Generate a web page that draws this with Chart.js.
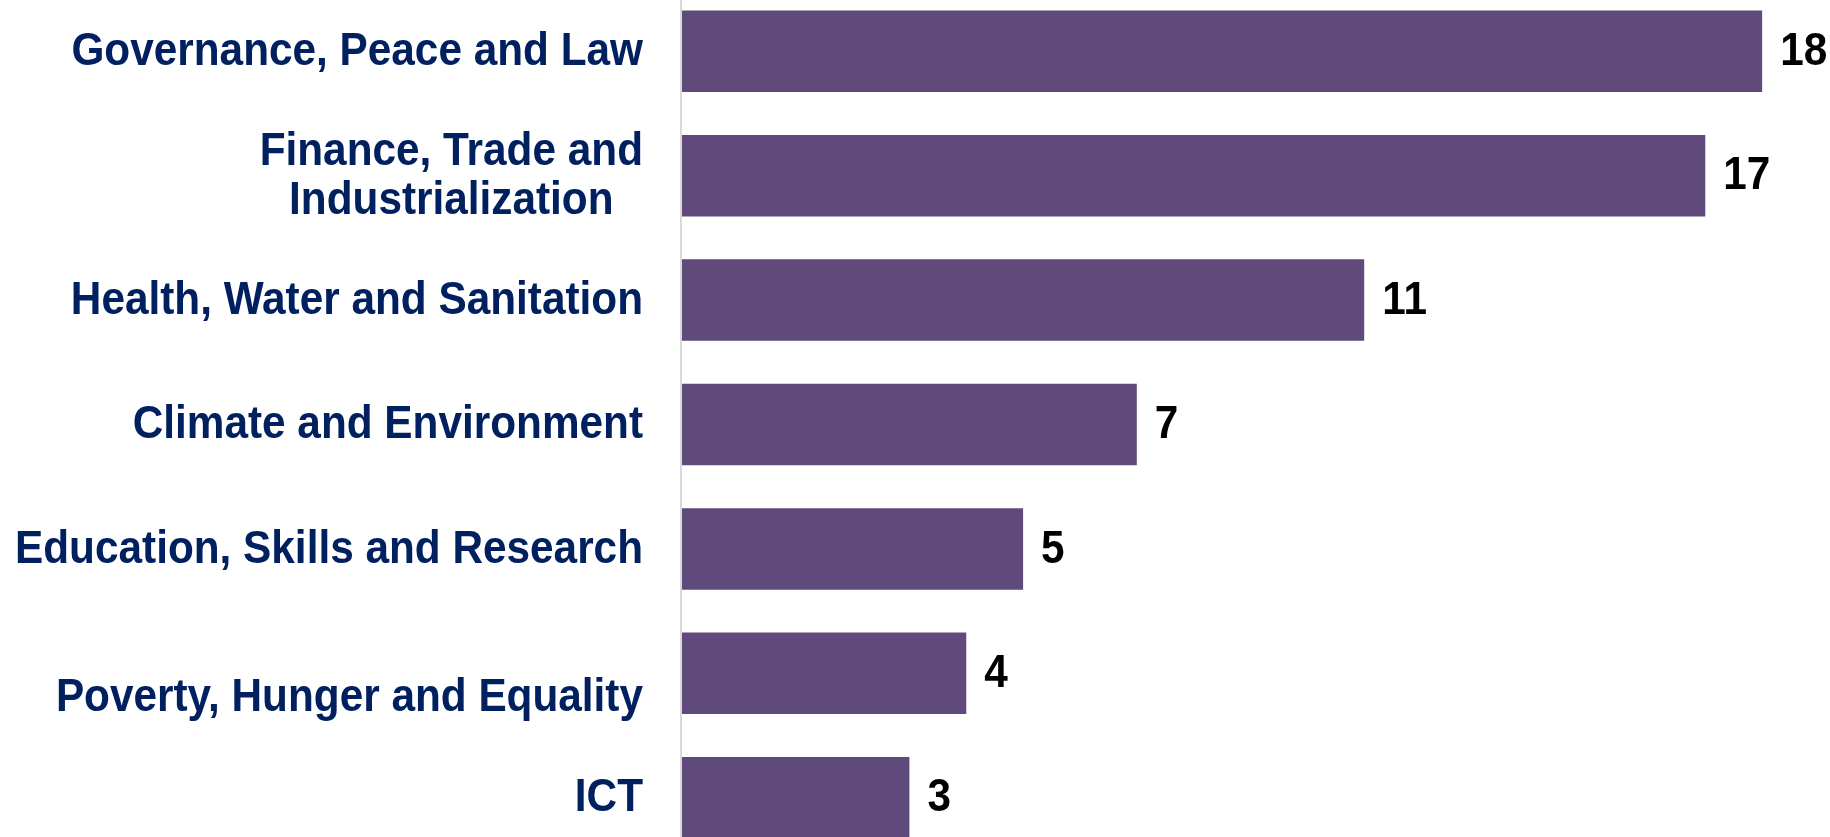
<!DOCTYPE html>
<html>
<head>
<meta charset="utf-8">
<script src="https://cdn.jsdelivr.net/npm/chart.js@4/dist/chart.umd.min.js"></script>
<style>
    html, body { margin: 0; padding: 0; background: #fff; overflow: hidden; }
    body { width: 1830px; height: 837px; position: relative; }
    .chart-box { position: absolute; left: 0; top: -11px; width: 1830px; height: 871px; }
</style>
</head>
<body>
<div class="chart-box"><canvas id="sectorChart"></canvas></div>
<script>
// ===== DATA =====
const categories = [
    'Governance, Peace and Law',
    ['Finance, Trade and', 'Industrialization'],
    'Health, Water and Sanitation',
    'Climate and Environment',
    'Education, Skills and Research',
    'Poverty, Hunger and Equality',
    'ICT'
];
const counts = [18, 17, 11, 7, 5, 4, 3];

const BAR_COLOR = '#604a7b';
const LABEL_COLOR = '#002060';
const FONT = 'bold 46px "Liberation Sans", Arial, sans-serif';
const SQUEEZE = 0.92; // original text is a bit narrow

// draw text squeezed horizontally, anchored at x
function drawText(ctx, text, x, y, align) {
    const w = ctx.measureText(text).width * SQUEEZE;
    let left = x;
    if (align === 'right') left = x - w;
    if (align === 'center') left = x - w / 2;
    ctx.save();
    ctx.translate(left, y);
    ctx.scale(SQUEEZE, 1);
    ctx.textAlign = 'left';
    ctx.fillText(text, 0, 0);
    ctx.restore();
}

const categoryLabels = {
    id: 'categoryLabels',
    beforeDatasetsDraw(chart) {
        const { ctx, chartArea } = chart;
        // light grey axis line
        ctx.save();
        ctx.strokeStyle = '#d9d9d9';
        ctx.lineWidth = 2;
        ctx.beginPath();
        ctx.moveTo(chartArea.left - 1, 0);
        ctx.lineTo(chartArea.left - 1, chart.height);
        ctx.stroke();
        ctx.restore();
    },
    afterDatasetsDraw(chart) {
        const { ctx, chartArea, scales } = chart;
        const right = chartArea.left - 39;
        ctx.save();
        ctx.font = FONT;
        ctx.fillStyle = LABEL_COLOR;
        ctx.textBaseline = 'middle';
        categories.forEach(function(label, i) {
            let y = scales.y.getPixelForValue(i) + 1;
            if (i === 5) y += 24; // this one sits lower in the original
            if (Array.isArray(label)) {
                const widths = label.map(l => ctx.measureText(l).width * SQUEEZE);
                const maxW = Math.max.apply(null, widths);
                const lineH = 49;
                const top = y - (label.length - 1) * lineH / 2;
                label.forEach(function(line, j) {
                    drawText(ctx, line, right - maxW / 2, top + j * lineH, 'center');
                });
            } else {
                drawText(ctx, label, right, y, 'right');
            }
        });

        // value labels at bar ends
        const meta = chart.getDatasetMeta(0);
        ctx.fillStyle = '#000';
        meta.data.forEach(function(bar, i) {
            drawText(ctx, String(counts[i]), bar.x + 18, bar.y + 1, 'left');
        });
        ctx.restore();
    }
};

new Chart(document.getElementById('sectorChart'), {
    type: 'bar',
    data: {
        labels: categories,
        datasets: [{
            data: counts,
            base: -1,
            backgroundColor: BAR_COLOR,
            borderWidth: 0,
            barPercentage: 0.655,
            categoryPercentage: 1
        }]
    },
    options: {
        indexAxis: 'y',
        responsive: true,
        maintainAspectRatio: false,
        animation: false,
        layout: { padding: { left: 682, right: 11, top: 0, bottom: 0 } },
        plugins: {
            legend: { display: false },
            tooltip: { enabled: false }
        },
        scales: {
            x: { display: false, min: -1, max: 19 },
            y: { display: false }
        }
    },
    plugins: [categoryLabels]
});
</script>
</body>
</html>
